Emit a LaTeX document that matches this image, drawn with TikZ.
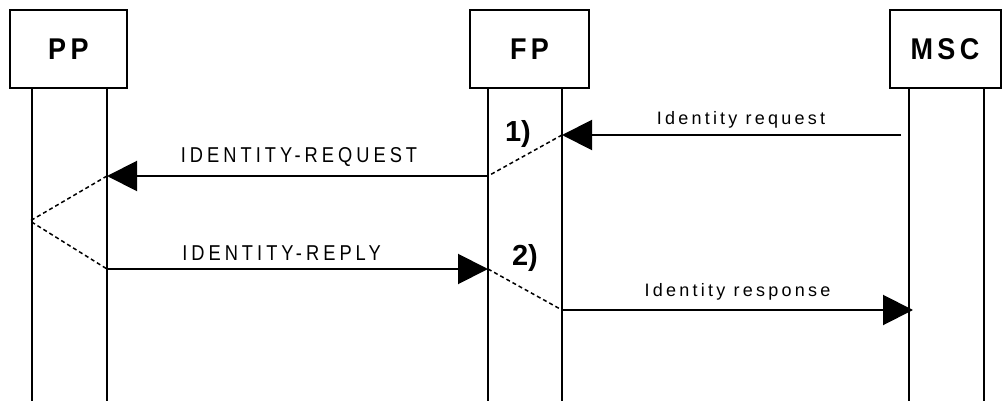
\documentclass[tikz,border=0pt]{standalone}
\usepackage{fontspec}
\setmainfont{Liberation Sans}
\newfontfamily\msgfont[LetterSpace=18]{Liberation Sans}
\newfontfamily\capfont[LetterSpace=18.7,FakeStretch=0.85]{Liberation Sans}
\newfontfamily\entfont[LetterSpace=15,FakeStretch=0.9]{Liberation Sans}
\usetikzlibrary{positioning}
\usetikzlibrary{arrows.meta}

\begin{document}
\begin{tikzpicture}[x=1pt,y=-1pt,
    entity/.style={shape=rectangle,draw=black,line width=2pt,minimum height=78pt,inner sep=0pt,
        font=\entfont\bfseries\fontsize{30}{32}\selectfont},
    lifeline/.style={line width=2pt},
    msg/.style={line width=2pt,-{Triangle[length=30pt,width=30pt]}},
    hop/.style={line width=1.5pt,dash pattern=on 4pt off 3pt},
    caplbl/.style={anchor=base,font=\capfont\fontsize{21.5}{24}\selectfont},
    lowlbl/.style={anchor=base,font=\msgfont\fontsize{18}{20}\selectfont},
    step_no/.style={anchor=base,font=\bfseries\fontsize{29}{31}\selectfont}]
    \useasboundingbox (0,0) rectangle (1002,401);

    \node[entity,minimum width=117pt] (PP) at (68.5,49.5) {PP};
    \node[entity,minimum width=119pt] (FP) at (529.5,49.5) {FP};
    \node[entity,minimum width=111pt] (MSC) at (945,49.5) {MSC};

    \foreach \n/\x in {PP_L/32, PP_R/107, FP_L/488, FP_R/562, MSC_L/909, MSC_R/984} {
        \coordinate (\n_top) at (\x,89);
        \coordinate (\n_end) at (\x,402);
        \draw[lifeline] (\n_top) -- (\n_end);
    }

    \coordinate (req_MSC) at (901,135);
    \coordinate (req_FP) at (562,135);
    \coordinate (REQ_FP) at (488,176);
    \coordinate (REQ_PP) at (107,176);
    \coordinate (turn_PP) at (30,221);
    \coordinate (REP_PP) at (107,269);
    \coordinate (REP_FP) at (488,269);
    \coordinate (rsp_FP) at (562,310);
    \coordinate (rsp_MSC) at (913,310);

    \draw[msg] (req_MSC) -- node[lowlbl,xshift=9.5pt,yshift=10pt] {Identity request} (req_FP);
    \draw[hop] (req_FP) -- (REQ_FP);
    \draw[msg] (REQ_FP) -- node[caplbl,xshift=1.5pt,yshift=13pt] {IDENTITY-REQUEST} (REQ_PP);
    \draw[hop] (REQ_PP) -- (turn_PP) -- (REP_PP);
    \draw[msg] (REP_PP) -- node[caplbl,xshift=-16pt,yshift=9pt] {IDENTITY-REPLY} (REP_FP);
    \draw[hop] (REP_FP) -- (rsp_FP);
    \draw[msg] (rsp_FP) -- node[lowlbl,yshift=14pt] {Identity response} (rsp_MSC);

    \node[step_no] (step_1) at (518,142) {1)};
    \node[step_no] (step_2) at (525,265) {2)};
\end{tikzpicture}
\end{document}
